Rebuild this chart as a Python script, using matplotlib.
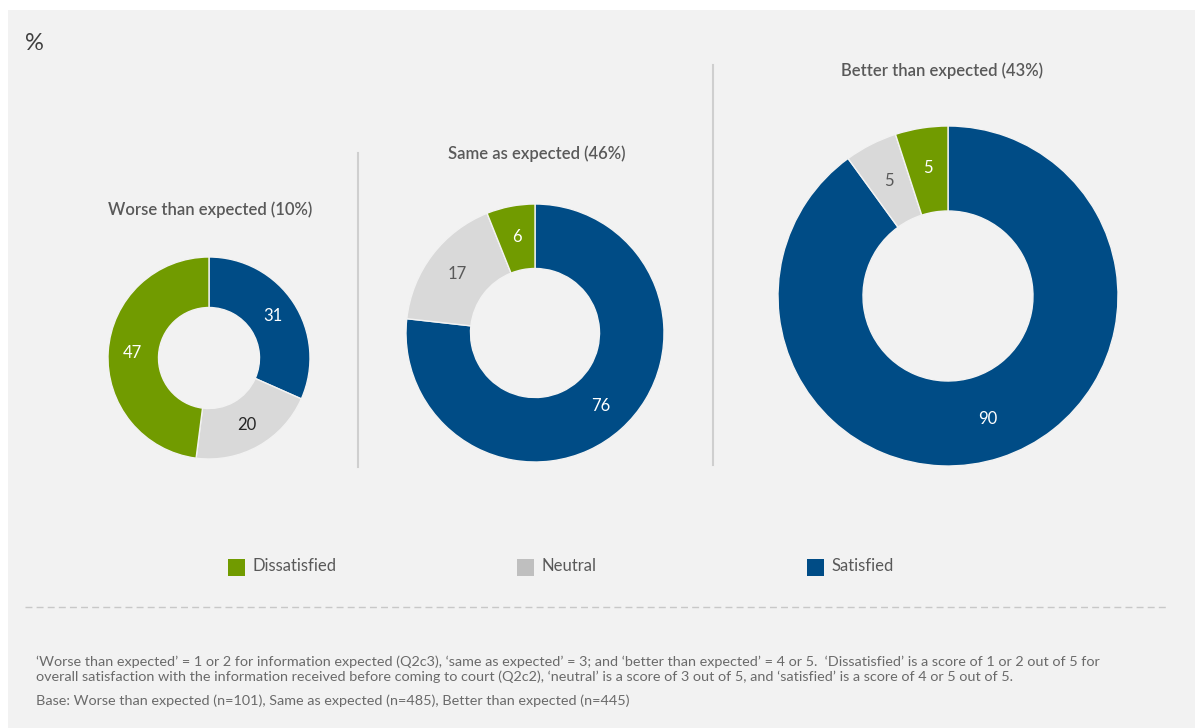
import matplotlib
matplotlib.use("Agg")
import matplotlib.pyplot as plt
from matplotlib.patches import Rectangle

plt.rcParams['font.family'] = ['Lato', 'DejaVu Sans']

# data
categories = ['Satisfied', 'Neutral', 'Dissatisfied']
groups = ['Worse than expected (10%)', 'Same as expected (46%)', 'Better than expected (43%)']
worse = [31, 20, 47]
same = [76, 17, 6]
better = [90, 5, 5]
values = [worse, same, better]
legend_order = ['Dissatisfied', 'Neutral', 'Satisfied']
footnote1 = ("\u2018Worse than expected\u2019 = 1 or 2 for information expected (Q2c3), \u2018same as expected\u2019 = 3; "
             "and \u2018better than expected\u2019 = 4 or 5.  \u2018Dissatisfied\u2019 is a score of 1 or 2 out of 5 for")
footnote2 = ("overall satisfaction with the information received before coming to court (Q2c2), \u2018neutral\u2019 is a score "
             "of 3 out of 5, and \u2018satisfied\u2019 is a score of 4 or 5 out of 5.")
footnote3 = "Base: Worse than expected (n=101), Same as expected (n=485), Better than expected (n=445)"

colors = {'Satisfied': '#004c86', 'Neutral': '#d9d9d9', 'Dissatisfied': '#719b00'}
legend_colors = {'Satisfied': '#004c86', 'Neutral': '#bfbfbf', 'Dissatisfied': '#719b00'}
text_col = '#595959'

W, H = 1195, 728
fig = plt.figure(figsize=(W / 100, H / 100), dpi=100)
fig.patch.set_facecolor('white')
ax = fig.add_axes([0, 0, 1, 1])

def Y(y):
    return H - y

ax.add_patch(Rectangle((8, 0), W - 8, Y(10), facecolor='#f2f2f2', edgecolor='none', zorder=0))

ax.text(25, Y(44), '%', fontsize=17, color='#404040', va='center', ha='left')

# donut layout (pixels)
centers = [(209, 358), (535, 333), (948, 296)]
radii = [101, 129, 170]
title_pos = [(210, 210), (537, 154), (942, 71)]
label_colors = [['white', '#262626', 'white'],
                ['white', text_col, 'white'],
                ['white', text_col, 'white']]

for i in range(3):
    cx, cy = centers[i]
    R = radii[i]
    wedges, texts = ax.pie(values[i], colors=[colors[c] for c in categories],
                           labels=[str(v) for v in values[i]],
                           startangle=90, counterclock=False,
                           center=(cx, Y(cy)), radius=R, labeldistance=0.76,
                           wedgeprops=dict(width=R * 0.5, edgecolor='#f2f2f2', linewidth=1),
                           textprops=dict(fontsize=12), frame=True)
    for t, c in zip(texts, label_colors[i]):
        t.set_color(c)
        t.set_ha('center')
        t.set_va('center')
    tx, ty = title_pos[i]
    ax.text(tx, Y(ty), groups[i], fontsize=12, fontweight='semibold', color=text_col,
            ha='center', va='center')

ax.set_xlim(0, W)
ax.set_ylim(0, H)
ax.set_aspect('auto')
ax.axis('off')

# separators
ax.plot([358, 358], [Y(153), Y(467)], color='#cfcfcf', lw=1.5)
ax.plot([713, 713], [Y(65), Y(465)], color='#cfcfcf', lw=1.5)
ax.plot([25, 1166], [Y(607), Y(607)], color='#c8c8c8', lw=1, linestyle=(0, (5, 3)))

# legend
leg_x = [228, 517, 807]
for name, lx in zip(legend_order, leg_x):
    ax.add_patch(Rectangle((lx, Y(576)), 17, 17, facecolor=legend_colors[name], edgecolor='none'))
    ax.text(lx + 25, Y(566), name, fontsize=12, color=text_col, ha='left', va='center')

# footnotes
fn_kw = dict(fontsize=10.4, color='#6a6a6a', ha='left', va='center')
ax.text(36, Y(662), footnote1, **fn_kw)
ax.text(36, Y(677), footnote2, **fn_kw)
ax.text(36, Y(701), footnote3, **fn_kw)

fig.savefig('out.png', dpi=100, facecolor='white')
